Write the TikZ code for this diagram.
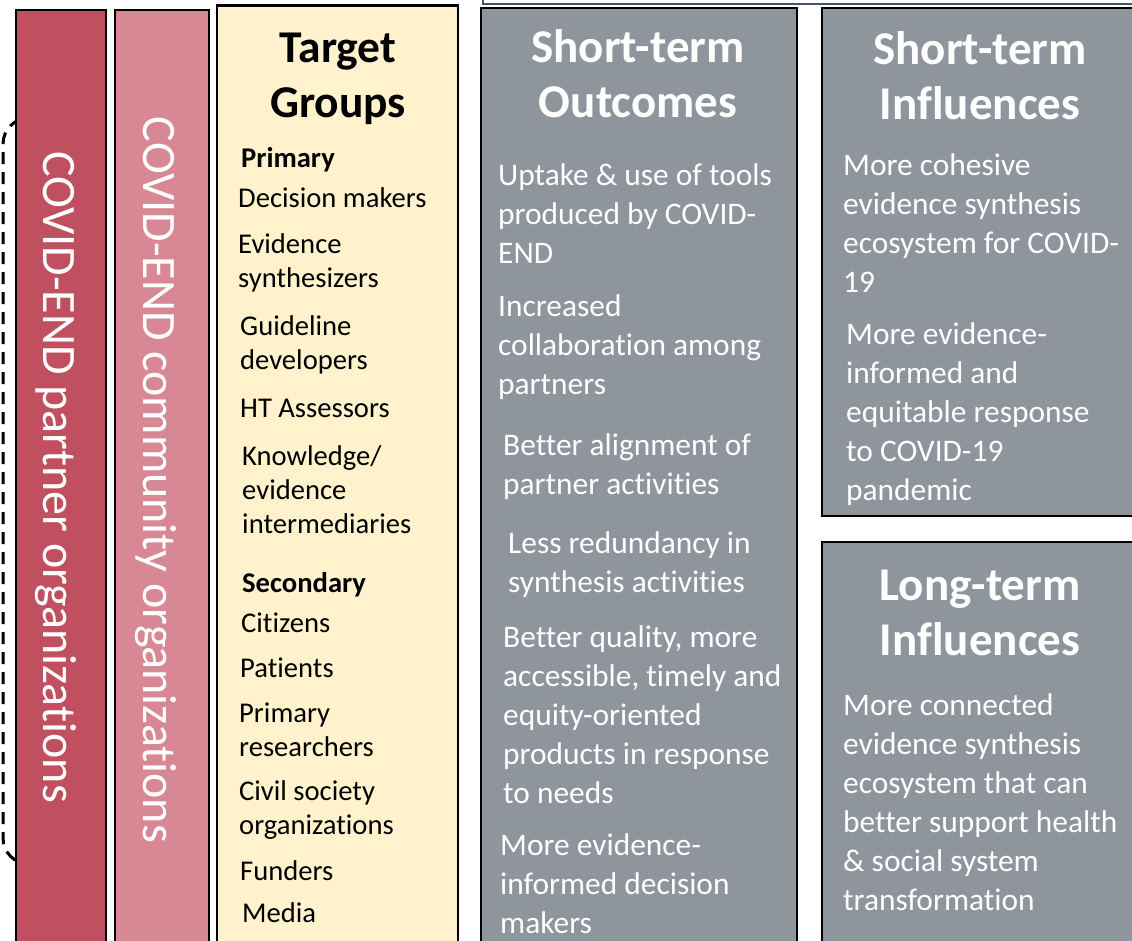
\documentclass[tikz,border=0pt]{standalone}
\usepackage{fontspec}
\setmainfont{Carlito}[Ligatures=NoCommon]
\definecolor{partner-red}{RGB}{192,80,95}
\definecolor{community-pink}{RGB}{215,136,148}
\definecolor{target-cream}{RGB}{255,242,204}
\definecolor{effect-gray}{RGB}{142,149,156}
\definecolor{frame-slate}{RGB}{68,84,106}
\usepackage{tikz}
\usetikzlibrary{positioning}
\newcommand{\leftlines}[1]{\begin{tabular}[t]{@{}l@{}}#1\end{tabular}}
\newcommand{\midlines}[1]{\begin{tabular}[t]{@{}c@{}}#1\end{tabular}}

\begin{document}
\begin{tikzpicture}[%
            x=1pt,y=-1pt,
            column/.style={%
              draw=black,
              line width=2.5pt,
              anchor=north west,
              inner sep=0pt,
              outer sep=0pt,
              minimum height=960pt,
            },
            sidetext/.style={%
              white,
              anchor=base,
              rotate=-90,
              inner sep=0pt,
              font=\fontsize{48}{58}\selectfont,
            },
            heading/.style={%
              anchor=base,
              inner sep=0pt,
              font=\bfseries\fontsize{47}{55}\selectfont,
            },
            grouptext/.style={%
              anchor=base west,
              inner sep=0pt,
              font=\fontsize{28.6}{34}\selectfont,
            },
            effecttext/.style={%
              white,
              anchor=base west,
              inner sep=0pt,
              font=\fontsize{31.4}{39}\selectfont,
            },
          ]
            \useasboundingbox (0,0) rectangle (1132,940);
            \clip (0,0) rectangle (1132,940);

            \draw [%
              line width=3pt,
              dash pattern=on 12pt off 8pt,
              rounded corners=26pt,
            ] (60,118) -| (3,864) -- (60,864);

            \node [column, fill=partner-red, minimum width=90pt] (partner) at (16,10) {};
            \node [%
              column,
              fill=community-pink,
              minimum width=94pt,
              below right=0pt and 9pt of partner.north east,
            ] (community) {};
            \node [column, fill=target-cream, minimum width=241pt] (target) at (217,5.5) {};
            \node [column, fill=effect-gray, minimum width=316pt] (outcomes) at (481,8) {};
            \node [%
              column,
              fill=effect-gray,
              minimum width=340pt,
              minimum height=508pt,
            ] (shortinf) at (822,8) {};
            \node [%
              column,
              fill=effect-gray,
              minimum width=340pt,
              below right=26pt and 0pt of shortinf.south west,
            ] (longinf) {};
            \draw [frame-slate,line width=2pt] (483,-5) -- (483,4) -- (1150,4);

            \node [sidetext] (partner label) at (43,477) {COVID-END partner organizations};
            \node [sidetext] (community label) at (143,480) {COVID-END community organizations};

            \node [heading,font=\bfseries\fontsize{45.5}{55}\selectfont] (target title) at (338,62) {\midlines{Target\\Groups}};
            \node [grouptext,font=\bfseries\fontsize{28.6}{34}\selectfont] (primary) at (241,167) {Primary};
            \foreach \x/\y/\t [count=\i] in {%
                238/207/{Decision makers},
                238/253/{Evidence\\synthesizers},
                240/335/{Guideline\\developers},
                240/417/{HT Assessors},
                242/465/{Knowledge/\\evidence\\intermediaries}}
              \node [grouptext] (primary \i) at (\x,\y) {\leftlines{\t}};
            \node [grouptext,font=\bfseries\fontsize{28.6}{34}\selectfont] (secondary) at (242,592) {Secondary};
            \foreach \x/\y/\t [count=\i] in {%
                241/632/{Citizens},
                240/677/{Patients},
                239/722/{Primary\\researchers},
                239/800/{Civil society\\organizations},
                240/880/{Funders},
                242/922/{Media}}
              \node [grouptext] (secondary \i) at (\x,\y) {\leftlines{\t}};

            \node [heading,white] (outcomes title) at (638,62) {\midlines{Short-term\\Outcomes}};
            \foreach \x/\y/\t [count=\i] in {%
                498/185/{Uptake \& use of tools\\produced by COVID-\\END},
                498/316/{Increased\\collaboration among\\partners},
                503/455/{Better alignment of\\partner activities},
                508/553/{Less redundancy in\\synthesis activities},
                503/647/{Better quality, more\\accessible, timely and\\equity-oriented\\products in response\\to needs},
                500/855/{More evidence-\\informed decision\\makers}}
              \node [effecttext] (outcome \i) at (\x,\y) {\leftlines{\t}};

            \node [heading,white] (shortinf title) at (980,64) {\midlines{Short-term\\Influences}};
            \foreach \x/\y/\t [count=\i] in {%
                843/175/{More cohesive\\evidence synthesis\\ecosystem for COVID-\\19},
                846/344/{More evidence-\\informed and\\equitable response\\to COVID-19\\pandemic}}
              \node [effecttext] (shortinf \i) at (\x,\y) {\leftlines{\t}};

            \node [heading,white] (longinf title) at (980,600) {\midlines{Long-term\\Influences}};
            \node [effecttext] (longinf 1) at (843,715) {\leftlines{More connected\\evidence synthesis\\ecosystem that can\\better support health\\\& social system\\transformation}};
          \end{tikzpicture}
\end{document}
